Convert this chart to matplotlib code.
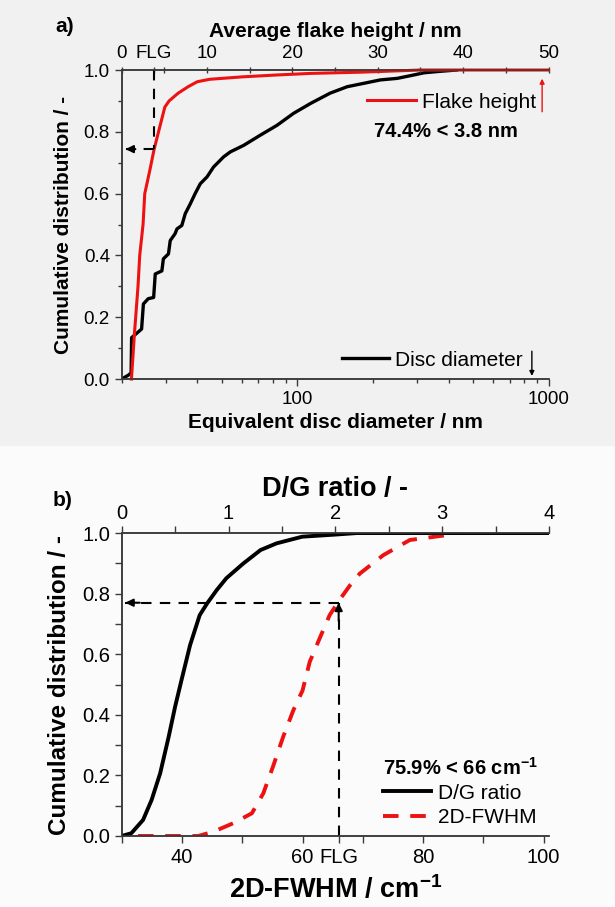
import matplotlib
matplotlib.use('Agg')
import matplotlib.pyplot as plt
from matplotlib.ticker import MultipleLocator, FixedLocator, FixedFormatter, NullFormatter, LogLocator, FuncFormatter, FormatStrFormatter
from matplotlib.patches import Rectangle

plt.rcParams['font.family'] = ['Liberation Sans', 'DejaVu Sans']
plt.rcParams['mathtext.fontset'] = 'custom'
plt.rcParams['mathtext.rm'] = 'Liberation Sans'
plt.rcParams['mathtext.bf'] = 'Liberation Sans:bold'

# ---- panel a: flake height (top axis) and disc diameter (bottom, log) ----
height_nm = [1.14, 1.5, 1.91, 2.11, 2.5, 2.7, 3.29, 3.8, 4.46, 5.05, 5.55, 6.61,
             7.78, 8.84, 10.3, 14.2, 18.2, 22.1, 28.0, 35.0, 50.0]
height_cum = [0.0, 0.15, 0.30, 0.40, 0.50, 0.60, 0.675, 0.744, 0.816, 0.88, 0.90, 0.925,
              0.946, 0.962, 0.970, 0.978, 0.984, 0.989, 0.993, 1.0, 1.0]

disc_nm = [20.0, 21.3, 21.8, 21.9, 22.8, 24.0, 24.4, 25.5, 26.8, 27.2, 28.9, 29.3,
           30.7, 31.2, 32.6, 33.2, 34.7, 35.8, 37.5, 39.2, 41.1, 43.7, 46.4, 50.9,
           54.1, 61.1, 71.2, 83.0, 96.7, 113, 135, 158, 184, 214, 250, 291, 319,
           360, 430]
disc_cum = [0.0, 0.013, 0.02, 0.134, 0.146, 0.162, 0.243, 0.26, 0.264, 0.34, 0.35, 0.389,
            0.405, 0.448, 0.47, 0.486, 0.497, 0.535, 0.567, 0.60, 0.632, 0.654, 0.686, 0.719,
            0.735, 0.756, 0.789, 0.821, 0.86, 0.892, 0.925, 0.946, 0.957, 0.968, 0.973, 0.984, 0.991,
            0.995, 1.0]

flg_height = 3.8
flg_height_frac = 0.744

# ---- panel b: D/G ratio (top axis) and 2D-FWHM (bottom axis) ----
dg_ratio = [0, 0.09, 0.2, 0.28, 0.36, 0.44, 0.5, 0.56, 0.64, 0.73, 0.8, 0.89, 0.98,
            1.14, 1.3, 1.45, 1.69, 2.0, 2.2, 4.0]
dg_cum = [0, 0.009, 0.053, 0.119, 0.207, 0.328, 0.427, 0.515, 0.63, 0.729, 0.768, 0.812,
          0.851, 0.90, 0.944, 0.966, 0.988, 0.995, 1.0, 1.0]

fwhm = [32.7, 40.2, 42.7, 45.2, 48.5, 51.6, 53.5, 55.1, 56.8, 58.5, 60.0, 61.2, 62.9,
        64.5, 66.2, 67.9, 69.5, 73.4, 77.8, 83.9, 85.5]
fwhm_cum = [0, 0, 0, 0.014, 0.042, 0.075, 0.141, 0.229, 0.328, 0.416, 0.48, 0.575, 0.655,
            0.729, 0.781, 0.828, 0.866, 0.927, 0.977, 0.993, 1.0]

flg_fwhm = 66
flg_fwhm_frac = 0.77

spine_col = '#3a3a3a'

fig = plt.figure(figsize=(6.15, 9.07), dpi=100)
fig.patch.set_facecolor('#fbfbfb')
fig.patches.append(Rectangle((0, 1 - 445 / 907), 1, 445 / 907, transform=fig.transFigure,
                             color='#f1f1f1', zorder=-10))


def style_spines(ax):
    ax.spines['right'].set_visible(False)
    for s in ['left', 'bottom', 'top']:
        ax.spines[s].set_color(spine_col)
        ax.spines[s].set_linewidth(1.1)
    ax.tick_params(which='both', color=spine_col, width=1.0)


def dashed_arrow(ax, x0, y0, x1, y1, back):
    # dashed guide line, solid arrow head at (x1, y1)
    ax.plot([x0, x1], [y0, y1], color='black', lw=1.5, dashes=(5, 4), clip_on=False)
    ax.annotate('', xy=(x1, y1), xytext=back,
                arrowprops=dict(arrowstyle='-|>', color='black', lw=1.5,
                                mutation_scale=11, shrinkA=0, shrinkB=0))


# ================= panel a =================
axa = fig.add_axes([0.1979, 0.5821, 0.694, 0.3407])
axa.set_facecolor('none')
style_spines(axa)
axa.set_xscale('log')
axa.set_xlim(20, 1000)
axa.set_ylim(0, 1)
l_disc, = axa.plot(disc_nm, disc_cum, color='black', lw=2.4, label='Disc diameter')
axa.xaxis.set_major_locator(LogLocator(base=10))
axa.xaxis.set_major_formatter(FuncFormatter(lambda v, p: f'{v:g}'))
axa.xaxis.set_minor_locator(LogLocator(base=10, subs=range(2, 10)))
axa.xaxis.set_minor_formatter(NullFormatter())
axa.yaxis.set_major_locator(MultipleLocator(0.2))
axa.yaxis.set_minor_locator(MultipleLocator(0.1))
axa.yaxis.set_major_formatter(FormatStrFormatter('%.1f'))
axa.tick_params(which='major', length=5, labelsize=13.5, direction='out')
axa.tick_params(which='minor', length=3, direction='out')
axa.set_xlabel('Equivalent disc diameter / nm', fontsize=15, fontweight='bold', labelpad=4)
axa.set_ylabel('Cumulative distribution / -', fontsize=15, fontweight='bold', labelpad=8)

axat = axa.twiny()
style_spines(axat)
axat.set_xlim(0, 50)
l_height, = axat.plot(height_nm, height_cum, color='#ee1111', lw=2.2, label='Flake height',
                      clip_on=False)
axat.xaxis.set_major_locator(FixedLocator([0, flg_height, 10, 20, 30, 40, 50]))
axat.xaxis.set_major_formatter(FixedFormatter(['0', 'FLG', '10', '20', '30', '40', '50']))
axat.xaxis.set_minor_locator(MultipleLocator(5))
axat.tick_params(which='major', length=5, labelsize=13.5, direction='inout', pad=3)
axat.tick_params(which='minor', length=4, direction='inout')
axat.set_xlabel('Average flake height / nm', fontsize=15, fontweight='bold', labelpad=6)

axat.plot([flg_height, flg_height], [1.0, flg_height_frac], color='black', lw=1.5,
          dashes=(5, 4))
dashed_arrow(axat, flg_height, flg_height_frac, 0.45, flg_height_frac,
             (1.6, flg_height_frac))

leg1 = axat.legend(handles=[l_height], loc='center right', bbox_to_anchor=(0.972, 0.896),
                   frameon=False, fontsize=15, handlelength=2.35, handletextpad=0.3,
                   borderpad=0, borderaxespad=0)
axat.annotate('', xy=(0.985, 0.972), xytext=(0.985, 0.865), xycoords='axes fraction',
              arrowprops=dict(arrowstyle='-|>', color='#ee1111', lw=1.0, mutation_scale=7,
                              shrinkA=0, shrinkB=0))
axat.text(0.76, 0.80, '74.4% < 3.8 nm', transform=axat.transAxes, ha='center',
          va='center', fontsize=14.5, fontweight='bold')

leg2 = axa.legend(handles=[l_disc], loc='center right', bbox_to_anchor=(0.94, 0.061),
                  frameon=False, fontsize=15, handlelength=2.25, handletextpad=0.3,
                  borderpad=0, borderaxespad=0)
axat.annotate('', xy=(0.961, 0.01), xytext=(0.961, 0.09), xycoords='axes fraction',
              arrowprops=dict(arrowstyle='-|>', color='black', lw=1.0, mutation_scale=7,
                              shrinkA=0, shrinkB=0))

fig.text(65 / 615, 1 - 27 / 907, 'a)', ha='center', va='center', fontsize=15,
         fontweight='bold')

# ================= panel b =================
axb = fig.add_axes([0.1979, 0.0783, 0.6948, 0.334])
axb.set_facecolor('none')
style_spines(axb)
axb.set_xlim(30, 100.9)
axb.set_ylim(0, 1)
l_fwhm, = axb.plot(fwhm, fwhm_cum, color='#ee1111', lw=2.8, dashes=(4, 3), label='2D-FWHM')
axb.xaxis.set_major_locator(FixedLocator([40, 60, flg_fwhm, 80, 100]))
axb.xaxis.set_major_formatter(FixedFormatter(['40', '60', 'FLG', '80', '100']))
axb.xaxis.set_minor_locator(FixedLocator([30, 50, 70, 90]))
axb.yaxis.set_major_locator(MultipleLocator(0.2))
axb.yaxis.set_minor_locator(MultipleLocator(0.1))
axb.yaxis.set_major_formatter(FormatStrFormatter('%.1f'))
axb.tick_params(which='both', length=5, direction='out')
axb.tick_params(which='major', labelsize=14.5)
axb.set_xlabel('2D-FWHM / cm$^{\\mathbf{-1}}$', fontsize=19.5, fontweight='bold', labelpad=6)
axb.set_ylabel('Cumulative distribution / -', fontsize=17.5, fontweight='bold', labelpad=8)

dashed_arrow(axb, flg_fwhm, 0, flg_fwhm, flg_fwhm_frac, (flg_fwhm, flg_fwhm_frac - 0.06))
dashed_arrow(axb, flg_fwhm, flg_fwhm_frac, 30.6, flg_fwhm_frac, (33.0, flg_fwhm_frac))

axbt = axb.twiny()
style_spines(axbt)
axbt.set_xlim(0, 4)
l_dg, = axbt.plot(dg_ratio, dg_cum, color='black', lw=2.8, label='D/G ratio')
axbt.xaxis.set_major_locator(MultipleLocator(1))
axbt.xaxis.set_minor_locator(MultipleLocator(0.5))
axbt.tick_params(which='both', length=5, direction='out')
axbt.tick_params(which='major', labelsize=14.5, pad=2)
axbt.set_xlabel('D/G ratio / -', fontsize=19.5, fontweight='bold', labelpad=6)

leg3 = axbt.legend(handles=[l_dg, l_fwhm], loc='lower right', bbox_to_anchor=(0.975, 0.03),
                   frameon=False, fontsize=15, handlelength=2.3, handletextpad=0.3,
                   labelspacing=0.25, borderpad=0, borderaxespad=0,
                   title='75.9% < 66 cm$^{\\mathbf{-1}}$',
                   title_fontproperties={'weight': 'bold', 'size': 14.5})
leg3._legend_box.align = 'left'

fig.text(63 / 615, 1 - 500 / 907, 'b)', ha='center', va='center', fontsize=15,
         fontweight='bold')

fig.savefig('out.png', dpi=100, facecolor=fig.get_facecolor())
